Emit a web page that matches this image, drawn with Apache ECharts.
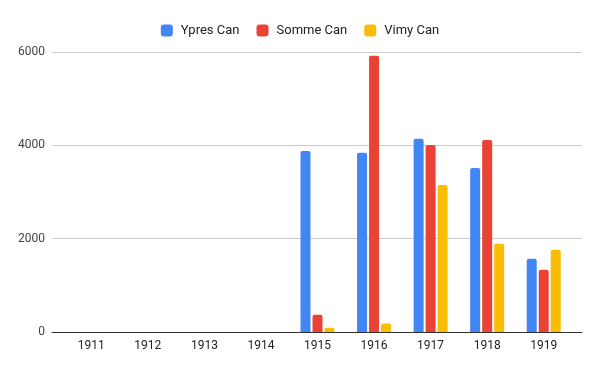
<!DOCTYPE html>
<html>
<head>
<meta charset="utf-8">
<script src="https://cdn.jsdelivr.net/npm/echarts@6/dist/echarts.min.js"></script>
<style>html,body{margin:0;padding:0;background:#fff}#c{width:600px;height:371px}</style>
</head>
<body>
<div id="c"></div>
<script>
var years = ['1911','1912','1913','1914','1915','1916','1917','1918','1919'];
var ypres = [null, null, null, null, 3880, 3840, 4140, 3515, 1570];
var somme = [null, null, null, null, 370, 5920, 4005, 4115, 1335];
var vimy  = [null, null, null, null, 90, 180, 3150, 1890, 1760];
var yTicks = [0, 2000, 4000, 6000];

var chart = echarts.init(document.getElementById('c'), null, {renderer: 'canvas'});
var font = 'Roboto, Arial, sans-serif';
function bar(name, data, color) {
  return {
    name: name, type: 'bar', data: data, xAxisIndex: 1, yAxisIndex: 1,
    barWidth: 10, barGap: '20%',
    itemStyle: {color: color, borderRadius: [2, 2, 0, 0]}
  };
}
chart.setOption({
  animation: false,
  textStyle: {fontFamily: font},
  legend: {
    top: 19, left: 'center', itemWidth: 12, itemHeight: 12, itemGap: 17,
    icon: 'roundRect',
    textStyle: {fontSize: 13, color: '#222', fontFamily: font, padding: [0, 0, 0, 3]},
    data: ['Ypres Can', 'Somme Can', 'Vimy Can']
  },
  grid: [
    {left: 52, right: 18, top: 52, bottom: 39},
    {left: 63, right: 28, top: 52, bottom: 39}
  ],
  xAxis: [
    {type: 'value', gridIndex: 0, min: 0, max: 1,
     axisLine: {show: true, lineStyle: {color: '#333', width: 1}},
     axisTick: {show: false}, axisLabel: {show: false}, splitLine: {show: false}},
    {type: 'category', gridIndex: 1, data: years,
     axisLine: {show: false}, axisTick: {show: false},
     axisLabel: {color: '#222', fontSize: 12, margin: 8, fontFamily: font}}
  ],
  yAxis: [
    {type: 'value', gridIndex: 0, min: yTicks[0], max: yTicks[yTicks.length - 1], interval: 2000,
     axisLine: {show: false}, axisTick: {show: false},
     axisLabel: {color: '#444', fontSize: 12, margin: 7, fontFamily: font,
                 formatter: function (v) { return String(v); }},
     splitLine: {lineStyle: {color: '#cccccc'}}},
    {type: 'value', gridIndex: 1, min: yTicks[0], max: yTicks[yTicks.length - 1], show: false,
     splitLine: {show: false}}
  ],
  series: [
    bar('Ypres Can', ypres, '#4285F4'),
    bar('Somme Can', somme, '#EA4335'),
    bar('Vimy Can', vimy, '#FBBC04')
  ]
});
</script>
</body>
</html>
